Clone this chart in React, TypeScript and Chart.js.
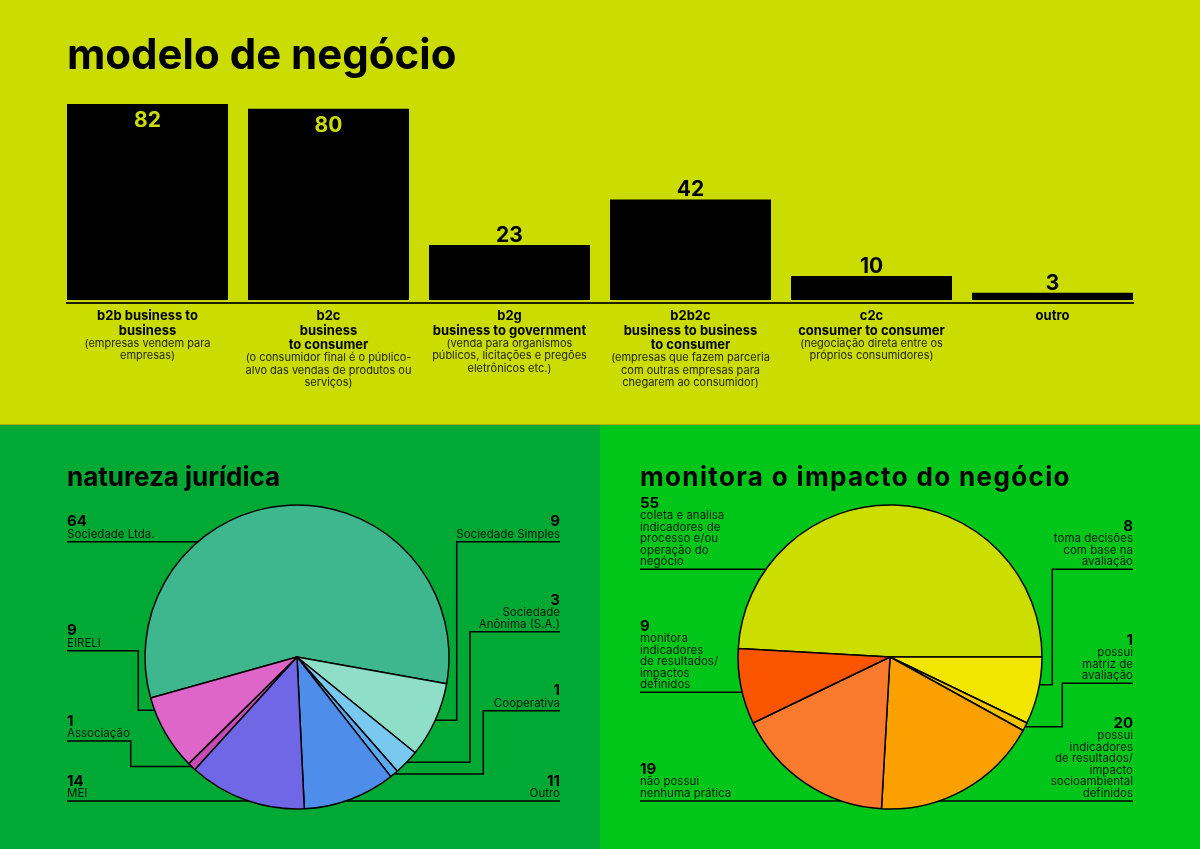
import { useEffect, useRef } from "react";
import { Chart, registerables } from "chart.js";

Chart.register(...registerables);

const FONT = "Inter, 'DejaVu Sans', sans-serif";

// Cores de fundo dos painéis
const BG_TOP = "#cbdd00";
const BG_LEFT = "#00a834";
const BG_RIGHT = "#00c61a";
const DIVIDER = "#b8a600";

// ---------- modelo de negócio ----------
const modeloTitulos: string[][] = [
  ["b2b business to", "business"],
  ["b2c", "business", "to consumer"],
  ["b2g", "business to government"],
  ["b2b2c", "business to business", "to consumer"],
  ["c2c", "consumer to consumer"],
  ["outro"],
];
const modeloDescricoes: string[][] = [
  ["(empresas vendem para", "empresas)"],
  ["(o consumidor final é o público-", "alvo das vendas de produtos ou", "serviços)"],
  ["(venda para organismos", "públicos, licitações e pregões", "eletrônicos etc.)"],
  ["(empresas que fazem parceria", "com outras empresas para", "chegarem ao consumidor)"],
  ["(negociação direta entre os", "próprios consumidores)"],
  [],
];
const modeloValores = [82, 80, 23, 42, 10, 3];

// ---------- natureza jurídica ----------
const naturezaRotulos: string[][] = [
  ["Sociedade Ltda."],
  ["Sociedade Simples"],
  ["Sociedade", "Anônima (S.A.)"],
  ["Cooperativa"],
  ["Outro"],
  ["MEI"],
  ["Associação"],
  ["EIRELI"],
];
const naturezaValores = [64, 9, 3, 1, 11, 14, 1, 9];
const naturezaCores = ["#3eb68e", "#8fdec8", "#78c8f0", "#5aaaf0", "#4f8deb", "#6f67e5", "#c84bb4", "#dd66c8"];

// ---------- monitora o impacto do negócio ----------
const monitoraRotulos: string[][] = [
  ["coleta e analisa", "indicadores de", "processo e/ou", "operação do", "negócio"],
  ["toma decisões", "com base na", "avaliação"],
  ["possui", "matriz de", "avaliação"],
  ["possui", "indicadores", "de resultados/", "impacto", "socioambiental", "definidos"],
  ["não possui", "nenhuma prática"],
  ["monitora", "indicadores", "de resultados/", "impactos", "definidos"],
];
const monitoraValores = [55, 8, 1, 20, 19, 9];
const monitoraCores = ["#ccdd00", "#f2e600", "#f5c400", "#faa000", "#fa7b2d", "#fb5500"];

// Guias de rótulo (layout): lado, altura do traço, cotovelo e ponto no arco
type Guia = { side: "left" | "right"; lineY: number; elbowX: number | null; frac: number };

const naturezaGuias: Guia[] = [
  { side: "left", lineY: 116.7, elbowX: null, frac: 0.5 },
  { side: "right", lineY: 116.7, elbowX: 456.7, frac: 0.5 },
  { side: "right", lineY: 206.7, elbowX: 470, frac: 0.5 },
  { side: "right", lineY: 285.7, elbowX: 483.3, frac: 0.5 },
  { side: "right", lineY: 376, elbowX: null, frac: 0.5 },
  { side: "left", lineY: 376, elbowX: null, frac: 0.5 },
  { side: "left", lineY: 316, elbowX: 130.7, frac: 0.5 },
  { side: "left", lineY: 225.7, elbowX: 138.3, frac: 0.83 },
];

const monitoraGuias: Guia[] = [
  { side: "left", lineY: 144.3, elbowX: null, frac: 0.5 },
  { side: "right", lineY: 144.3, elbowX: 452.3, frac: 0.41 },
  { side: "right", lineY: 258.3, elbowX: 462.3, frac: 0.5 },
  { side: "right", lineY: 376, elbowX: null, frac: 0.5 },
  { side: "left", lineY: 376, elbowX: null, frac: 0.5 },
  { side: "left", lineY: 267.3, elbowX: null, frac: 0.5 },
];

function makeBarPlugin() {
  return {
    id: "modeloLabels",
    afterDatasetsDraw(chart: any) {
      const ctx = chart.ctx as CanvasRenderingContext2D;
      const area = chart.chartArea;
      const meta = chart.getDatasetMeta(0);
      ctx.save();

      ctx.fillStyle = "#000";
      ctx.textAlign = "left";
      ctx.textBaseline = "alphabetic";
      ctx.font = `700 42px ${FONT}`;
      ctx.fillText("modelo de negócio", 67, 69);

      // linha de base: da borda da primeira barra à da última
      const bars = meta.data.map((b: any) => b.getProps(["x", "y", "base", "width"], true));
      const first = bars[0];
      const last = bars[bars.length - 1];
      ctx.strokeStyle = "#1c2000";
      ctx.lineWidth = 2;
      ctx.beginPath();
      ctx.moveTo(first.x - first.width / 2 - 1, area.bottom + 3);
      ctx.lineTo(last.x + last.width / 2 + 1, area.bottom + 3);
      ctx.stroke();

      bars.forEach((bar: any, i: number) => {
        const { x, y, base } = bar;
        const v = modeloValores[i];
        ctx.textAlign = "center";
        ctx.textBaseline = "middle";
        ctx.font = `700 21px ${FONT}`;
        if (base - y > 120) {
          ctx.fillStyle = BG_TOP;
          ctx.fillText(String(v), x, y + 16.5);
        } else {
          ctx.fillStyle = "#000";
          ctx.fillText(String(v), x, y - 9.5);
        }

        let ly = area.bottom + 16.5;
        ctx.fillStyle = "#000";
        ctx.font = `700 13px ${FONT}`;
        modeloTitulos[i].forEach((t, k) => {
          ctx.fillText(t, x, ly + k * 14.5);
        });
        ly += (modeloTitulos[i].length - 1) * 14.5 + 12.5;
        ctx.fillStyle = "#25260f";
        ctx.font = `400 11px ${FONT}`;
        modeloDescricoes[i].forEach((t, k) => {
          ctx.fillText(t, x, ly + k * 12.5);
        });
      });
      ctx.restore();
    },
  };
}

function makePiePlugin(
  id: string,
  title: string,
  titleSpacing: number,
  rotulos: string[][],
  valores: number[],
  guias: Guia[],
  textLeft: number,
  textRight: number
) {
  return {
    id,
    afterDraw(chart: any) {
      const ctx = chart.ctx as CanvasRenderingContext2D;
      const meta = chart.getDatasetMeta(0);
      ctx.save();
      ctx.fillStyle = "#000";
      ctx.textAlign = "left";
      ctx.textBaseline = "alphabetic";
      ctx.font = `700 26px ${FONT}`;
      (ctx as any).letterSpacing = `${titleSpacing}px`;
      ctx.fillText(title, textLeft, 61);
      (ctx as any).letterSpacing = "0px";

      ctx.strokeStyle = "#000";
      ctx.lineWidth = 1.5;
      meta.data.forEach((arc: any, i: number) => {
        const g = guias[i];
        const { x, y, startAngle, endAngle, outerRadius } = arc.getProps(
          ["x", "y", "startAngle", "endAngle", "outerRadius"],
          true
        );
        let tx: number;
        let ty: number;
        if (g.elbowX === null) {
          ty = g.lineY;
          const dx = Math.sqrt(Math.max(0, outerRadius * outerRadius - (ty - y) * (ty - y)));
          tx = g.side === "left" ? x - dx : x + dx;
        } else {
          const a = startAngle + (endAngle - startAngle) * g.frac;
          tx = x + outerRadius * Math.cos(a);
          ty = y + outerRadius * Math.sin(a);
        }
        const edgeX = g.side === "left" ? textLeft : textRight;
        ctx.beginPath();
        ctx.moveTo(edgeX, g.lineY);
        if (g.elbowX === null) {
          ctx.lineTo(tx, ty);
        } else {
          ctx.lineTo(g.elbowX, g.lineY);
          ctx.lineTo(g.elbowX, ty);
          ctx.lineTo(tx, ty);
        }
        ctx.stroke();

        const lines = rotulos[i];
        const lh = 11.5;
        const firstY = g.lineY - 7.5 - (lines.length - 1) * lh;
        ctx.textAlign = g.side === "left" ? "left" : "right";
        ctx.textBaseline = "middle";
        ctx.fillStyle = "#000";
        ctx.font = `700 15px ${FONT}`;
        ctx.fillText(String(valores[i]), edgeX, firstY - 12.5);
        ctx.fillStyle = "#0a1a0a";
        ctx.font = `400 11.5px ${FONT}`;
        lines.forEach((t, k) => ctx.fillText(t, edgeX, firstY + k * lh));
      });
      ctx.restore();
    },
  };
}

function pieConfig(
  valores: number[],
  cores: string[],
  rotation: number,
  padding: { left: number; right: number; top: number; bottom: number },
  plugin: any
): any {
  return {
    type: "pie",
    data: {
      labels: valores.map((_, i) => String(i)),
      datasets: [
        {
          data: valores,
          backgroundColor: cores,
          borderColor: "#000",
          borderWidth: 1.5,
        },
      ],
    },
    options: {
      responsive: false,
      animation: false,
      events: [],
      rotation,
      radius: 152,
      layout: { padding },
      plugins: { legend: { display: false }, tooltip: { enabled: false } },
    },
    plugins: [plugin],
  };
}

export default function App() {
  const barRef = useRef<HTMLCanvasElement>(null);
  const natRef = useRef<HTMLCanvasElement>(null);
  const monRef = useRef<HTMLCanvasElement>(null);

  useEffect(() => {
    Chart.defaults.font.family = FONT;
    const charts: Chart[] = [];

    charts.push(
      new Chart(barRef.current!, {
        type: "bar",
        data: {
          labels: modeloTitulos.map((t) => t.join(" ")),
          datasets: [
            {
              data: modeloValores,
              backgroundColor: "#000",
              borderWidth: 0,
              categoryPercentage: 1,
              barPercentage: 161 / 181,
            },
          ],
        },
        options: {
          responsive: false,
          animation: false,
          events: [],
          layout: { padding: { left: 57, right: 57, top: 104, bottom: 124 } },
          scales: {
            x: { display: false },
            y: { display: false, min: 0, max: 82 },
          },
          plugins: { legend: { display: false }, tooltip: { enabled: false } },
        },
        plugins: [makeBarPlugin()],
      } as any)
    );

    const natTotal = naturezaValores.reduce((a, b) => a + b, 0);
    const monTotal = monitoraValores.reduce((a, b) => a + b, 0);

    charts.push(
      new Chart(
        natRef.current!,
        pieConfig(
          naturezaValores,
          naturezaCores,
          100.1 - (naturezaValores[0] / natTotal) * 360,
          { left: 137, right: 143, top: 72, bottom: 32 },
          makePiePlugin("naturezaLabels", "natureza jurídica", 0, naturezaRotulos, naturezaValores, naturezaGuias, 67, 560)
        )
      )
    );

    charts.push(
      new Chart(
        monRef.current!,
        pieConfig(
          monitoraValores,
          monitoraCores,
          90 - (monitoraValores[0] / monTotal) * 360,
          { left: 130, right: 150, top: 72, bottom: 32 },
          makePiePlugin("monitoraLabels", "monitora o impacto do negócio", 1.35, monitoraRotulos, monitoraValores, monitoraGuias, 40, 533)
        )
      )
    );

    return () => charts.forEach((c) => c.destroy());
  }, []);

  const panel = (left: number, top: number, w: number, h: number, bg: string) => ({
    position: "absolute" as const,
    left,
    top,
    width: w,
    height: h,
    background: bg,
  });

  return (
    <div style={{ position: "absolute", left: 0, top: 0, width: 1200, height: 849, overflow: "hidden" }}>
      <div style={panel(0, 0, 1200, 424, BG_TOP)}>
        <canvas ref={barRef} width={1200} height={424} style={{ display: "block", width: 1200, height: 424 }} />
      </div>
      <div style={panel(0, 424, 1200, 1, DIVIDER)} />
      <div style={panel(0, 425, 600, 424, BG_LEFT)}>
        <canvas ref={natRef} width={600} height={424} style={{ display: "block", width: 600, height: 424 }} />
      </div>
      <div style={panel(600, 425, 600, 424, BG_RIGHT)}>
        <canvas ref={monRef} width={600} height={424} style={{ display: "block", width: 600, height: 424 }} />
      </div>
    </div>
  );
}
